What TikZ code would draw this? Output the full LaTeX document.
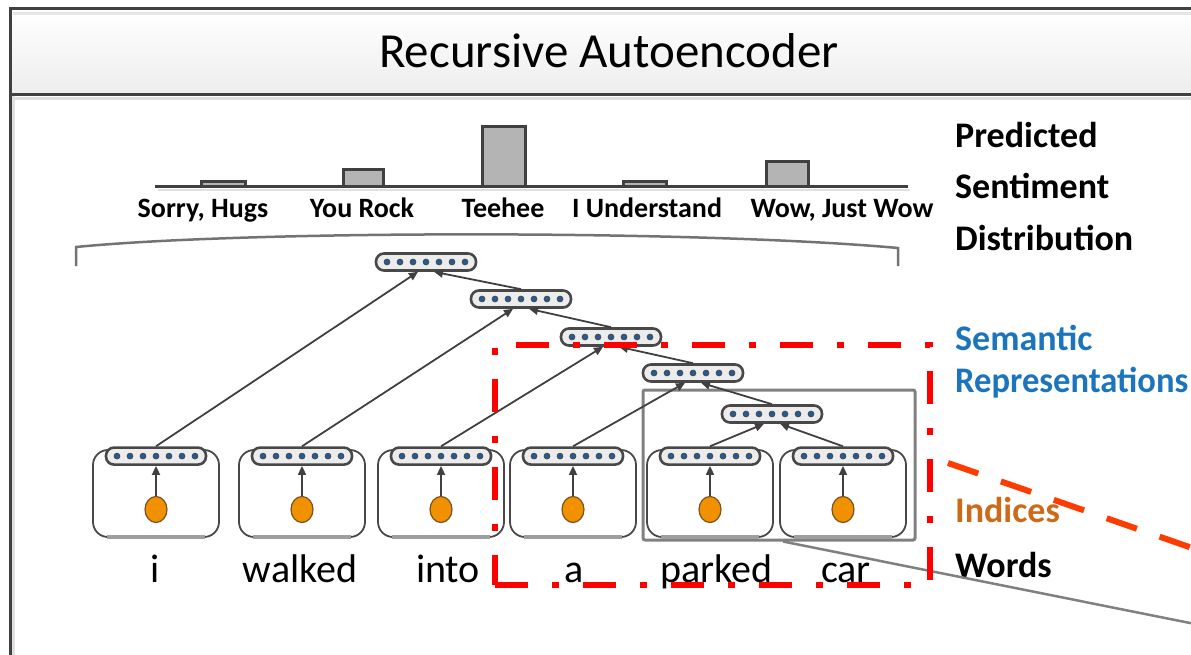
\documentclass[tikz,border=0pt]{standalone}
\usepackage{fontspec}
\setmainfont{Carlito}
\usepackage{tikz}
\usetikzlibrary{arrows.meta,positioning,fit,calc,shapes.geometric}
\definecolor{framegrey}{HTML}{404040}
\definecolor{vecgrey}{HTML}{484848}
\definecolor{vecfill}{HTML}{ECECEC}
\definecolor{vecblue}{HTML}{1F5C99}
\definecolor{dotorange}{HTML}{F29100}
\definecolor{dotrim}{HTML}{7A5220}
\definecolor{semblue}{HTML}{1C75BC}
\definecolor{idxorange}{HTML}{CC6A1A}
\definecolor{focusred}{HTML}{FF0000}
\definecolor{zoomred}{HTML}{FF3C00}
\definecolor{bargrey}{HTML}{B4B4B4}

\tikzset{
  vecnode/.style={draw=vecgrey,line width=2.6pt,fill=vecfill,rounded corners=8pt,
    minimum width=100pt,minimum height=17pt,inner sep=0pt,
    path picture={\foreach \k in {-3,...,3}
      \filldraw[draw=vecgrey,fill=vecblue,line width=0.8pt]
        ([xshift=\k*13pt]path picture bounding box.center) circle (2.9pt);}},
  wordbox/.style={draw=vecgrey,line width=1.8pt,rounded corners=15pt,
    minimum width=126pt,minimum height=87pt,inner sep=0pt},
  boxshadow/.style={draw=black!38,line width=4pt},
  idxdot/.style={ellipse,draw=dotrim,fill=dotorange,line width=1.2pt,
    minimum width=22pt,minimum height=26pt,inner sep=0pt},
  link/.style={draw=framegrey,line width=1.8pt,-{Triangle[length=9pt,width=8pt]}},
  histbar/.style={draw=framegrey,line width=3pt,fill=bargrey},
  bracket/.style={draw=black!55,line width=2.5pt},
  subbox/.style={draw=black!50,line width=3pt,rounded corners=2pt,
    minimum width=272pt,minimum height=150pt,inner sep=0pt},
  focusbox/.style={draw=focusred,line width=6pt,
    dash pattern=on 33pt off 24pt on 7pt off 24pt,
    minimum width=435pt,minimum height=240pt,inner sep=0pt},
  zoomline/.style={draw=black!50,line width=2.5pt},
  zoomdash/.style={draw=zoomred,line width=6pt,dash pattern=on 32pt off 24pt},
  titlefont/.style={font=\fontsize{49}{59}\selectfont,inner sep=0pt},
  catlbl/.style={font=\bfseries\fontsize{28}{33}\selectfont,inner sep=0pt},
  sidelbl/.style={font=\bfseries\fontsize{36}{43}\selectfont,inner sep=0pt},
  wordlbl/.style={font=\fontsize{40}{48}\selectfont,inner sep=0pt}
}

\begin{document}
\begin{tikzpicture}[x=1pt,y=-1pt,>=Stealth]
  \useasboundingbox (0,0) rectangle (1191,655);
  \clip (0,0) rectangle (1191,655);
  \fill[top color=white,bottom color=black!7] (12,10) rectangle (1191,93);
  \draw[black!10,line width=3pt] (13,13.5) -- (1191,13.5);
  \draw[framegrey,line width=3pt] (10.5,655) -- (10.5,8.5) -- (1191,8.5);
  \draw[framegrey,line width=3pt] (10,94.5) -- (1191,94.5);
  \draw[black!13,line width=3pt] (12,98.5) -- (1191,98.5);
  \draw[black!12,line width=2.5pt] (13.5,96) -- (13.5,655);
  \node[titlefont,anchor=base] (title) at (609,68) {Recursive Autoencoder};

  \draw[black!12,line width=2pt] (158,190.5) -- (910,190.5);
  \draw[framegrey,line width=3pt] (155,187) -- (908,187);
  \foreach \xa/\xb/\ytop in {201/245/182, 343/383/170, 482/525/127, 623/666/182, 766/808/162}
    \draw[histbar] (\xa,187) rectangle (\xb,\ytop);
  \foreach \cx/\lbl [count=\i] in {203/{Sorry, Hugs}, 362/You Rock, 503/Teehee, 647/I Understand, 842/{Wow, Just Wow}}
    \node[catlbl,anchor=base] (cat\i) at (\cx,218) {\lbl};
  \draw[bracket] (76,266) -- (76,247) .. controls (250,230) and (700,230) .. (898,248) -- (898,266);

  \foreach \yb/\lbl/\col/\nm in {148/Predicted/black/pred, 199/Sentiment/black/sent,
      251/Distribution/black/dist, 350/Semantic/semblue/sem,
      392/{\scalebox{0.96}[1]{Representations}}/semblue/rep,
      522/Indices/idxorange/idx, 577/Words/black/wrd}
    \node[sidelbl,text=\col,anchor=base west] (\nm) at (955,\yb) {\lbl};

  \node[subbox] (sub) at (779,465) {};

  \foreach \nm/\cx/\cy in {n1/426/262, n2/521/299, n3/611/337, n4/693/373, n5/772/414}
    \node[vecnode] (\nm) at (\cx,\cy) {};

  \foreach \w/\bx/\wx in {i/156/155, walked/302/300, into/441/448, a/573/574, parked/710/716, car/843/846} {
    \node[wordbox] (b-\w) at (\bx,493.5) {};
    \draw[boxshadow] ([xshift=15pt,yshift=1pt]b-\w.south west) -- ([xshift=-15pt,yshift=1pt]b-\w.south east);
    \node[vecnode] (v-\w) at ([yshift=-7pt]b-\w.north) {};
    \node[idxdot] (d-\w) at ([yshift=-16pt]b-\w.center) {};
    \draw[link] (d-\w.north) -- (v-\w.south);
    \node[wordlbl,anchor=base] (w-\w) at (\wx,582) {\w};
  }

  \foreach \lf/\p in {i/n1, walked/n2, into/n3, a/n4, parked/n5}
    \draw[link] (v-\lf.north) -- ([xshift=-8pt]\p.south);
  \foreach \c/\p in {n2/n1, n3/n2, n4/n3, n5/n4, v-car/n5}
    \draw[link] (\c.north) -- ([xshift=8pt]\p.south);

  \coordinate (zoomend) at (1195,624);
  \draw[zoomline] ([xshift=4pt]sub.south) -- (zoomend);
  \node[focusbox] (focus) at (712.5,465) {};
  \coordinate (zoomtop) at (1195,549);
  \draw[zoomdash] ([xshift=15pt,yshift=2pt]focus.east) -- (zoomtop);
\end{tikzpicture}
\end{document}
